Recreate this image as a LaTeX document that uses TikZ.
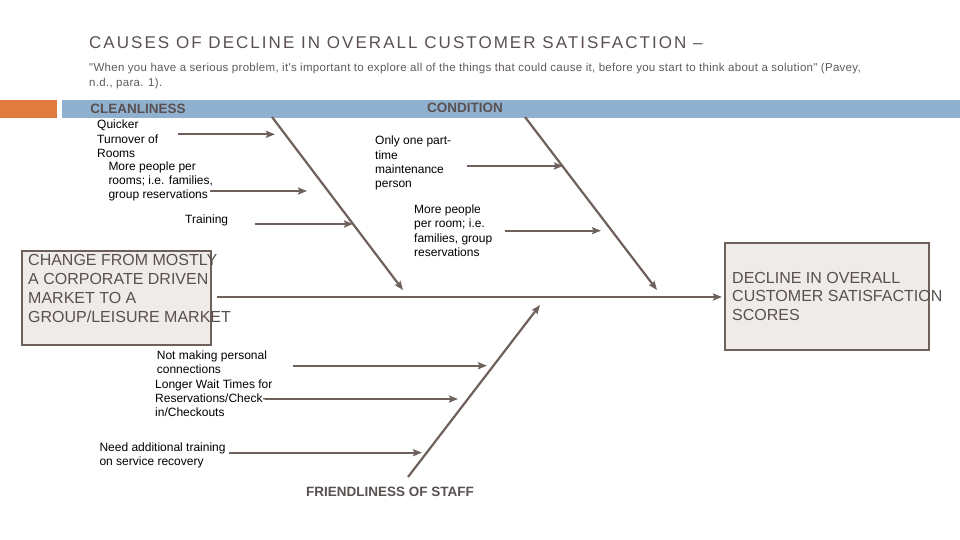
\documentclass[tikz,border=0pt]{standalone}
\usepackage{fontspec}
\setmainfont{Liberation Sans}
\newfontfamily\titlefont[LetterSpace=12]{Liberation Sans}
\newfontfamily\quotefont[LetterSpace=2.5]{Liberation Sans}
\usetikzlibrary{arrows.meta}
\definecolor{bonecol}{HTML}{6E605A}
\definecolor{headcol}{HTML}{5A5050}
\definecolor{quotecol}{HTML}{5F5A58}
\definecolor{barblue}{HTML}{8FB0CF}
\definecolor{barorange}{HTML}{E07B3F}
\definecolor{boxfill}{HTML}{EEEBE8}

\begin{document}
\begin{tikzpicture}[x=1pt, y=-1pt, >={Stealth[length=9pt,width=7pt,inset=1.5pt]},
  every node/.style={inner sep=0pt},
  cause/.style={anchor=base west, align=left, font=\fontsize{12}{14.4}\selectfont},
  category/.style={anchor=base, text=headcol, font=\fontsize{13.5}{16}\selectfont\bfseries},
  boxtext/.style={anchor=base west, align=left, text=headcol, font=\fontsize{16}{19}\selectfont},
  effectbox/.style={draw=bonecol, fill=boxfill, line width=2pt, anchor=north west},
  bone/.style={draw=bonecol, line width=2.2pt, ->}]
  \useasboundingbox (0,0) rectangle (960,540);

  % multi-line nodes sit on the baseline of their last line
  \node[anchor=base west, text=headcol, font=\fontsize{17}{20}\titlefont] (title) at (89,48.5)
    {CAUSES OF DECLINE IN OVERALL CUSTOMER SATISFACTION –};
  \node[anchor=base west, text=quotecol, align=left, font=\fontsize{11.5}{15}\quotefont] (quote) at (89,86.7)
    {"When you have a serious problem, it's important to explore all of the things that could cause it, before you start to think about a solution" (Pavey,\\n.d., para. 1).};

  \fill[barorange] (0,100) rectangle (57,118);
  \fill[barblue] (62,100) rectangle (960,118);
  \node[category] (clean) at (138,114) {CLEANLINESS};
  \node[category] (cond) at (465,113) {CONDITION};
  \node[category] (staff) at (390,496) {FRIENDLINESS OF STAFF};

  \node[effectbox, minimum width=189pt, minimum height=94pt] (change) at (21,250) {};
  \node[boxtext] (changetxt) at (28,322) {CHANGE FROM MOSTLY\\A CORPORATE DRIVEN\\MARKET TO A\\GROUP/LEISURE MARKET};
  \node[effectbox, minimum width=204pt, minimum height=107pt] (decline) at (724,242) {};
  \node[boxtext, font=\fontsize{16}{18.3}\selectfont] (declinetxt) at (732,320) {DECLINE IN OVERALL\\CUSTOMER SATISFACTION\\SCORES};

  \coordinate (spineL) at (216.5,297);
  \coordinate (spineR) at (722,297);
  \coordinate (cleanA) at (272,117);
  \coordinate (cleanB) at (403,290);
  \coordinate (condA) at (525,117);
  \coordinate (condB) at (657,290);
  \coordinate (staffA) at (408,477);
  \coordinate (staffB) at (540,305);
  \draw[bone] (spineL) -- (spineR);
  \draw[bone] (cleanA) -- (cleanB);
  \draw[bone] (condA) -- (condB);
  \draw[bone] (staffA) -- (staffB);

  \node[cause] (quick) at (97,157.8) {Quicker\\Turnover of\\Rooms};
  \node[cause] (morepp) at (108.3,198.8) {More people per\\rooms; i.e. families,\\group reservations};
  \node[cause] (train) at (185,223.3) {Training};
  \node[cause] (parttime) at (375,187.9) {Only one part-\\time\\maintenance\\person};
  \node[cause] (moreroom) at (414,256.5) {More people\\per room; i.e.\\families, group\\reservations};
  \node[cause] (personal) at (156.7,373.4) {Not making personal\\connections};
  \node[cause] (wait) at (155,416.8) {Longer Wait Times for\\Reservations/Check-\\in/Checkouts};
  \node[cause] (recover) at (99.3,465.7) {Need additional training\\on service recovery};

  \coordinate (quickA) at (178,134.3);    \coordinate (quickB) at (275,134.3);
  \coordinate (morepA) at (210,191);      \coordinate (morepB) at (307,191);
  \coordinate (trainA) at (255,224);      \coordinate (trainB) at (353,224);
  \coordinate (partA) at (467,166);       \coordinate (partB) at (563,166);
  \coordinate (roomA) at (505,230.7);     \coordinate (roomB) at (601,230.7);
  \coordinate (persA) at (293,365.7);     \coordinate (persB) at (487,365.7);
  \coordinate (waitA) at (265,399);       \coordinate (waitB) at (458,399);
  \coordinate (recA) at (229,452.7);      \coordinate (recB) at (422,452.7);
  \draw[bone] (quickA) -- (quickB);
  \draw[bone] (morepA) -- (morepB);
  \draw[bone] (trainA) -- (trainB);
  \draw[bone] (partA) -- (partB);
  \draw[bone] (roomA) -- (roomB);
  \draw[bone] (persA) -- (persB);
  \draw[bone] (waitA) -- (waitB);
  \draw[bone] (recA) -- (recB);
\end{tikzpicture}
\end{document}
